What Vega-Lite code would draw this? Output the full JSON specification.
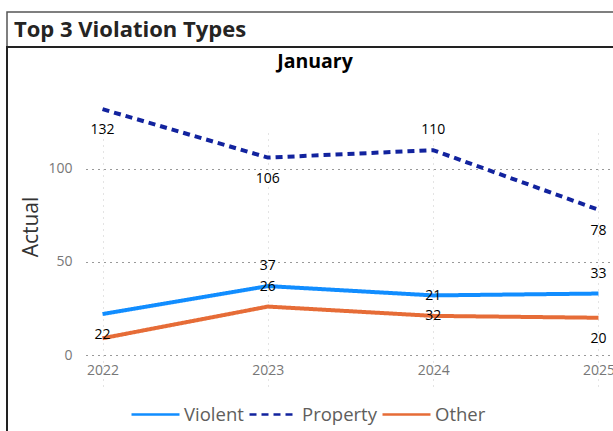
{
  "$schema": "https://vega.github.io/schema/vega-lite/v6.json",
  "padding": {"left": 6, "top": 11, "right": 0, "bottom": 0},
  "background": "white",
  "bounds": "flush",
  "spacing": 0,
  "config": {"font": "Open Sans"},
  "vconcat": [
    {
      "width": 620,
      "height": 35,
      "view": {"stroke": "#555", "strokeWidth": 1.5},
      "data": {"values": [{"t": "Top 3 Violation Types"}]},
      "mark": {"type": "text", "align": "left", "baseline": "middle", "dx": -303, "fontSize": 22, "fontWeight": "bold", "font": "Open Sans", "color": "#252423"},
      "encoding": {"text": {"field": "t", "type": "nominal"}}
    },
    {
      "width": 620,
      "height": 394,
      "view": {"stroke": "#222", "strokeWidth": 2},
      "layer": [
        {
          "data": {"name": "counts"},
          "mark": {"type": "line", "strokeWidth": 4},
          "encoding": {
            "x": {"field": "year", "type": "ordinal", "scale": {"type": "point", "range": [79, 608], "padding": 0.1},
              "axis": {"orient": "bottom", "offset": -86, "labelAngle": 0, "domain": false, "ticks": false, "labelPadding": 8, "labelFontSize": 14, "labelColor": "#777777", "labelFont": "Open Sans", "title": null, "grid": true, "gridColor": "#c8c8c8", "gridDash": [1, 5], "gridWidth": 1}},
            "y": {"field": "value", "type": "quantitative", "scale": {"domain": [0, 138], "range": [308, 51], "nice": false, "zero": true},
              "axis": {"orient": "left", "offset": -79, "values": [0, 50, 100], "domain": false, "ticks": false, "labelPadding": 14, "labelFontSize": 14, "labelColor": "#777777", "labelFont": "Open Sans", "title": "Actual", "titleFontSize": 21, "titleFontWeight": "normal", "titleColor": "#333333", "titleFont": "Open Sans", "titlePadding": 6, "grid": true, "gridColor": "#333333", "gridDash": [1, 5], "gridWidth": 1}},
            "color": {"field": "series", "type": "nominal", "scale": {"domain": ["Violent", "Property", "Other"], "range": ["#118DFF", "#12239E", "#E66C37"]},
              "legend": {"orient": "none", "legendX": 123, "legendY": 377, "direction": "horizontal", "title": null, "symbolType": "stroke", "symbolSize": 2304, "symbolStrokeWidth": 2.5, "labelFontSize": 18.5, "labelColor": "#605E5C", "labelFont": "Open Sans", "labelOffset": 3, "columnPadding": 0}},
            "strokeDash": {"field": "series", "type": "nominal", "scale": {"domain": ["Violent", "Property", "Other"], "range": [[1, 0], [7, 5], [1, 0]]},
              "legend": {"orient": "none", "legendX": 123, "legendY": 377, "direction": "horizontal", "title": null, "symbolType": "stroke", "symbolSize": 2304, "symbolStrokeWidth": 2.5, "labelFontSize": 18.5, "labelColor": "#605E5C", "labelFont": "Open Sans", "labelOffset": 3, "columnPadding": 0}}
          }
        },
        {
          "data": {"name": "counts"},
          "transform": [{"filter": "(datum.series == 'Property' && datum.year == '2024') || (datum.series == 'Violent' && (datum.year == '2023' || datum.year == '2025')) || (datum.series == 'Other' && (datum.year == '2023' || datum.year == '2024'))"}],
          "mark": {"type": "text", "dy": -20, "fontSize": 14, "color": "#000000", "font": "Open Sans", "baseline": "middle"},
          "encoding": {
            "x": {"field": "year", "type": "ordinal", "scale": {"type": "point", "range": [79, 608], "padding": 0.1},
              "axis": {"orient": "bottom", "offset": -86, "labelAngle": 0, "domain": false, "ticks": false, "labelPadding": 8, "labelFontSize": 14, "labelColor": "#777777", "labelFont": "Open Sans", "title": null, "grid": true, "gridColor": "#c8c8c8", "gridDash": [1, 5], "gridWidth": 1}},
            "y": {"field": "value", "type": "quantitative", "scale": {"domain": [0, 138], "range": [308, 51], "nice": false, "zero": true},
              "axis": {"orient": "left", "offset": -79, "values": [0, 50, 100], "domain": false, "ticks": false, "labelPadding": 14, "labelFontSize": 14, "labelColor": "#777777", "labelFont": "Open Sans", "title": "Actual", "titleFontSize": 21, "titleFontWeight": "normal", "titleColor": "#333333", "titleFont": "Open Sans", "titlePadding": 6, "grid": true, "gridColor": "#333333", "gridDash": [1, 5], "gridWidth": 1}},
            "text": {"field": "value", "type": "quantitative"}
          }
        },
        {
          "data": {"name": "counts"},
          "transform": [{"filter": "(datum.series == 'Property' && datum.year != '2024') || (datum.series == 'Violent' && (datum.year == '2022' || datum.year == '2024')) || (datum.series == 'Other' && datum.year == '2025')"}],
          "mark": {"type": "text", "dy": 21, "fontSize": 14, "color": "#000000", "font": "Open Sans", "baseline": "middle"},
          "encoding": {
            "x": {"field": "year", "type": "ordinal", "scale": {"type": "point", "range": [79, 608], "padding": 0.1},
              "axis": {"orient": "bottom", "offset": -86, "labelAngle": 0, "domain": false, "ticks": false, "labelPadding": 8, "labelFontSize": 14, "labelColor": "#777777", "labelFont": "Open Sans", "title": null, "grid": true, "gridColor": "#c8c8c8", "gridDash": [1, 5], "gridWidth": 1}},
            "y": {"field": "value", "type": "quantitative", "scale": {"domain": [0, 138], "range": [308, 51], "nice": false, "zero": true},
              "axis": {"orient": "left", "offset": -79, "values": [0, 50, 100], "domain": false, "ticks": false, "labelPadding": 14, "labelFontSize": 14, "labelColor": "#777777", "labelFont": "Open Sans", "title": "Actual", "titleFontSize": 21, "titleFontWeight": "normal", "titleColor": "#333333", "titleFont": "Open Sans", "titlePadding": 6, "grid": true, "gridColor": "#333333", "gridDash": [1, 5], "gridWidth": 1}},
            "text": {"field": "value", "type": "quantitative"}
          }
        },
        {
          "data": {"values": [{"t": "January"}]},
          "mark": {"type": "text", "align": "center", "baseline": "middle", "dx": -2, "dy": -182, "fontSize": 19.5, "fontWeight": "bold", "font": "Open Sans", "color": "#000000"},
          "encoding": {"text": {"field": "t", "type": "nominal"}}
        }
      ]
    }
  ],
  "datasets": {
    "counts": [
      {"year": "2022", "series": "Violent", "value": 22},
      {"year": "2023", "series": "Violent", "value": 37},
      {"year": "2024", "series": "Violent", "value": 32},
      {"year": "2025", "series": "Violent", "value": 33},
      {"year": "2022", "series": "Property", "value": 132},
      {"year": "2023", "series": "Property", "value": 106},
      {"year": "2024", "series": "Property", "value": 110},
      {"year": "2025", "series": "Property", "value": 78},
      {"year": "2022", "series": "Other", "value": 9},
      {"year": "2023", "series": "Other", "value": 26},
      {"year": "2024", "series": "Other", "value": 21},
      {"year": "2025", "series": "Other", "value": 20}
    ]
  }
}
